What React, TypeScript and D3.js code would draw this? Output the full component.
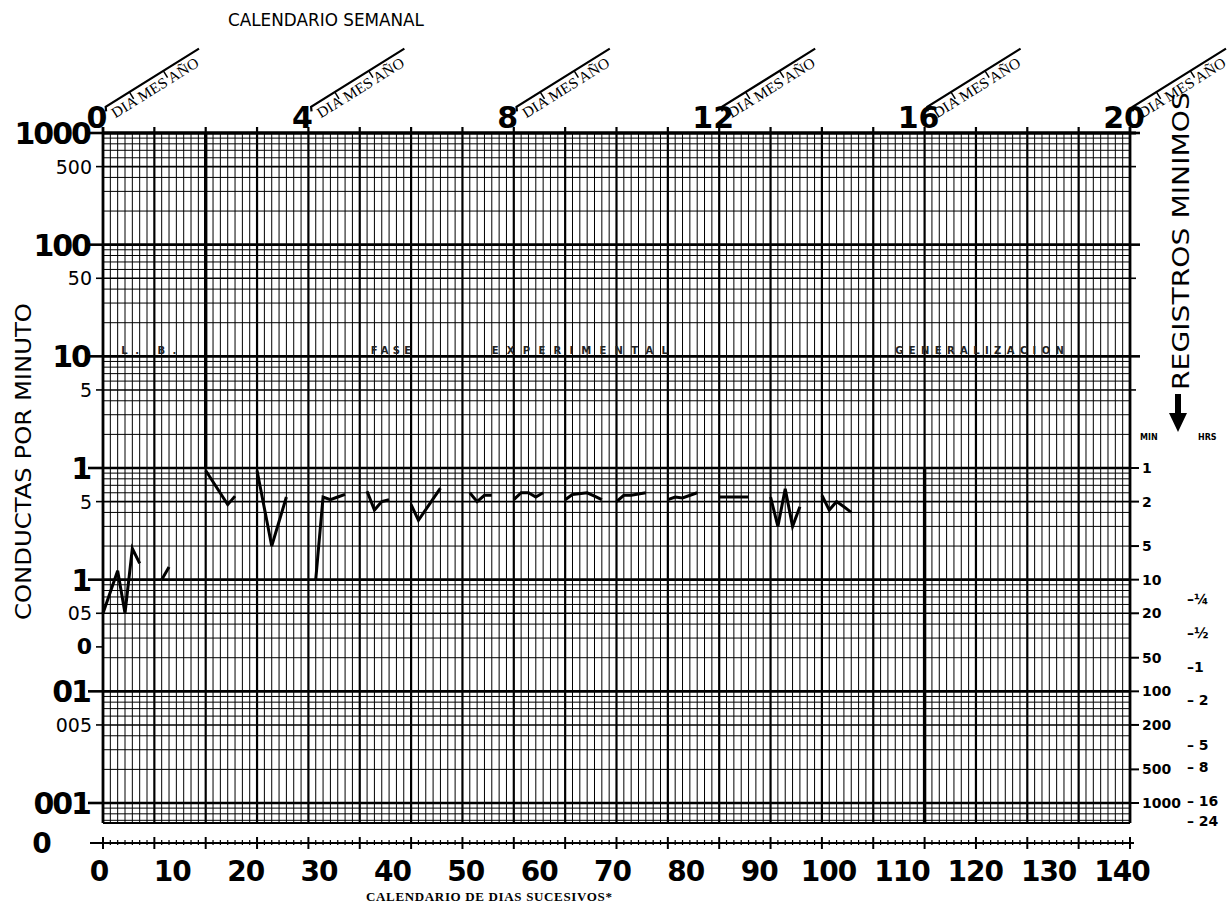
import * as d3 from "d3";

// sessions (day, responses per minute); null breaks a segment
const sessionDays = [
  0, 2, 3, 4, 5, null,
  8, 9, null,
  14, 17, 18, null,
  21, 23, 25, null,
  29, 30, 31, 32, 33, null,
  36, 37, 38, 39, null,
  42, 43, 46, null,
  50, 51, 52, 53, null,
  56, 57, 58, 59, 60, null,
  63, 64, 66, 67, 68, null,
  70, 71, 72, 74, null,
  77, 78, 79, 81, null,
  84, 88, null,
  91, 92, 93, 94, 95, null,
  98, 99, 100, 101, 102,
];
const sessionRates = [
  0.05, 0.12, 0.05, 0.19, 0.14, null,
  0.1, 0.13, null,
  0.95, 0.47, 0.56, null,
  0.95, 0.2, 0.55, null,
  0.1, 0.55, 0.52, 0.55, 0.58, null,
  0.62, 0.42, 0.5, 0.52, null,
  0.47, 0.34, 0.66, null,
  0.6, 0.5, 0.57, 0.57, null,
  0.52, 0.6, 0.6, 0.55, 0.6, null,
  0.52, 0.58, 0.6, 0.56, 0.52, null,
  0.5, 0.57, 0.57, 0.6, null,
  0.52, 0.55, 0.54, 0.6, null,
  0.55, 0.55, null,
  0.55, 0.3, 0.65, 0.3, 0.45, null,
  0.57, 0.42, 0.5, 0.45, 0.4,
];

const weekLabels = [0, 4, 8, 12, 16, 20];
const dayLabels = [0, 10, 20, 30, 40, 50, 60, 70, 80, 90, 100, 110, 120, 130, 140];
const leftMajor = [
  { v: 1000, t: "1000" }, { v: 100, t: "100" }, { v: 10, t: "10" },
  { v: 1, t: "1" }, { v: 0.1, t: "1" }, { v: 0.01, t: "01" }, { v: 0.001, t: "001" },
];
const leftMinor = [
  { v: 500, t: "500" }, { v: 50, t: "50" }, { v: 5, t: "5" }, { v: 0.5, t: "5" },
  { v: 0.05, t: "05" }, { v: 0.025, t: "0" }, { v: 0.005, t: "005" },
];
const minuteLabels = [1, 2, 5, 10, 20, 50, 100, 200, 500, 1000];
const hourLabels = [
  { h: 0.25, t: "–¼" }, { h: 0.5, t: "–½" }, { h: 1, t: "–1" }, { h: 2, t: "– 2" },
  { h: 5, t: "– 5" }, { h: 8, t: "– 8" }, { h: 16, t: "– 16" }, { h: 24, t: "– 24" },
];
const phaseLabels = [
  { day: 2.5, end: 10, t: "L.  B." },
  { day: 36.5, end: 42, t: "FASE" },
  { day: 53, end: 77, t: "EXPERIMENTAL" },
  { day: 108, end: 131, t: "GENERALIZACION" },
];

export default function App() {
  const W = 1230, H = 913;
  const x = d3.scaleLinear().domain([0, 140]).range([103, 1130]);
  const y = d3.scaleLog().domain([0.001, 1000]).range([803, 133]);
  const top = 133, bottom = 823;
  const sans = "DejaVu Sans, sans-serif";
  const serif = "Liberation Serif, serif";

  // horizontal grid lines: 1..9 x each decade, plus the strip below .001
  const hLines: { v: number; w: number }[] = [];
  for (let e = -3; e < 3; e++) {
    for (let m = 1; m < 10; m++) {
      const v = m * Math.pow(10, e);
      hLines.push({ v, w: m === 1 ? 2.6 : m === 5 ? 1.6 : 1 });
    }
  }
  hLines.push({ v: 1000, w: 2.8 });
  [0.0009, 0.0008, 0.0007].forEach(v => hLines.push({ v, w: 1 }));

  const days = d3.range(0, 141);
  const pts = sessionDays.map((d, i) => [d, sessionRates[i]] as [number | null, number | null]);
  const line = d3.line<[number | null, number | null]>()
    .defined(p => p[0] !== null && p[1] !== null)
    .x(p => x(p[0] as number))
    .y(p => y(p[1] as number));

  const axisY = 843;

  return (
    <svg width={W} height={H} style={{ position: "absolute", left: 0, top: 0, background: "#fff" }}>
      <text x={228} y={26} fontFamily={sans} fontSize={18} textLength={196} lengthAdjust="spacingAndGlyphs" fill="#000">CALENDARIO SEMANAL</text>

      {/* week calendar brackets */}
      {weekLabels.map(w => (
        <g key={"w" + w}>
          <text x={x(w * 7) - 6} y={128} fontFamily={sans} fontSize={30} fontWeight="bold" textAnchor="middle">{w}</text>
          <g transform={`translate(${x(w * 7) + 1},${108}) rotate(-32)`}>
            <path d="M0,4 L2,0 L112,0" fill="none" stroke="#000" strokeWidth={2.2} />
            <line x1={30} y1={0} x2={30} y2={8} stroke="#000" strokeWidth={1.5} />
            <line x1={70} y1={0} x2={70} y2={8} stroke="#000" strokeWidth={1.5} />
            <text x={4} y={15} fontFamily={serif} fontSize={15} textLength={100} lengthAdjust="spacingAndGlyphs">DIA MES AÑO</text>
          </g>
        </g>
      ))}

      {/* vertical grid */}
      {days.map(d => (
        <line key={"v" + d} x1={x(d)} x2={x(d)} y1={d % 7 === 0 ? top - 6 : top} y2={bottom}
          stroke="#000" strokeWidth={d === 0 || d === 140 ? 2.8 : d % 7 === 0 ? 2.2 : 1} />
      ))}
      {/* horizontal grid */}
      {hLines.map((l, i) => (
        <line key={"h" + i} x1={x(0)} x2={x(140)} y1={y(l.v)} y2={y(l.v)} stroke="#000" strokeWidth={l.w} />
      ))}
      <line x1={x(0)} x2={x(140) + 6} y1={top} y2={top} stroke="#000" strokeWidth={3} />
      <line x1={x(0)} x2={x(140)} y1={bottom} y2={bottom} stroke="#000" strokeWidth={2} />
      {/* phase lines */}
      <line x1={x(14)} x2={x(14)} y1={top} y2={y(1)} stroke="#000" strokeWidth={3.4} />
      <line x1={x(112)} x2={x(112)} y1={y(1)} y2={bottom} stroke="#000" strokeWidth={3.4} />

      {phaseLabels.map(p => (
        <text key={p.t} x={x(p.day)} y={y(10) - 2} fontFamily={sans} fontSize={10} fontWeight="bold"
          textLength={x(p.end) - x(p.day)} fill="#222">{p.t}</text>
      ))}

      {/* left axis */}
      {leftMajor.map(t => (
        <g key={"lm" + t.v}>
          <line x1={88} x2={x(0)} y1={y(t.v)} y2={y(t.v)} stroke="#000" strokeWidth={2.6} />
          <text x={90} y={y(t.v) + 11} fontFamily={sans} fontSize={30} fontWeight="bold" textAnchor="end" letterSpacing={-2}>{t.t}</text>
        </g>
      ))}
      {leftMinor.map(t => (
        <g key={"ln" + t.v}>
          <line x1={96} x2={x(0)} y1={y(t.v)} y2={y(t.v)} stroke="#000" strokeWidth={1.6} />
          <text x={92} y={y(t.v) + 7} fontFamily={sans} fontSize={t.t === "0" ? 22 : 19}
            fontWeight={t.t === "0" ? "bold" : "normal"} textAnchor="end">{t.t}</text>
        </g>
      ))}
      <text transform={`translate(31,${620}) rotate(-90)`} fontFamily={sans} fontSize={21} textLength={317} lengthAdjust="spacingAndGlyphs">CONDUCTAS POR MINUTO</text>

      {/* right axis: minutes and hours */}
      {minuteLabels.map(m => (
        <g key={"m" + m}>
          <line x1={x(140)} x2={x(140) + 9} y1={y(1 / m)} y2={y(1 / m)} stroke="#000" strokeWidth={2} />
          <text x={x(140) + 12} y={y(1 / m) + 5} fontFamily={sans} fontSize={14} fontWeight="bold">{m}</text>
        </g>
      ))}
      {[1000, 100, 10].map(v => (
        <line key={"rt" + v} x1={x(140)} x2={x(140) + 10} y1={y(v)} y2={y(v)} stroke="#000" strokeWidth={2.6} />
      ))}
      {[500, 50, 5].map(v => (
        <line key={"rt" + v} x1={x(140)} x2={x(140) + 6} y1={y(v)} y2={y(v)} stroke="#000" strokeWidth={1.6} />
      ))}
      {hourLabels.map(h => (
        <text key={"h" + h.h} x={1187} y={y(1 / (h.h * 60)) + 5} fontFamily={sans} fontSize={14} fontWeight="bold">{h.t}</text>
      ))}
      <text transform={`translate(1189,${390}) rotate(-90)`} fontFamily={sans} fontSize={23} textLength={298} lengthAdjust="spacingAndGlyphs">REGISTROS MINIMOS</text>
      <path d="M1175,394 L1181,394 L1181,413 L1187,413 L1178,432 L1169,413 L1175,413 Z" fill="#000" />
      <text x={1140} y={440} fontFamily={sans} fontSize={8} fontWeight="bold">MIN</text>
      <text x={1198} y={440} fontFamily={sans} fontSize={8} fontWeight="bold">HRS</text>

      {/* data */}
      <path d={line(pts) ?? ""} fill="none" stroke="#000" strokeWidth={3} strokeLinejoin="miter" />

      {/* bottom day axis */}
      <line x1={90} x2={x(140) + 4} y1={axisY} y2={axisY} stroke="#000" strokeWidth={2} />
      {days.map(d => (
        <line key={"t" + d} x1={x(d)} x2={x(d)} y1={axisY - (d % 7 === 0 ? 6 : 3)} y2={axisY + (d % 7 === 0 ? 6 : 2)}
          stroke="#000" strokeWidth={d % 7 === 0 ? 2 : 1.2} />
      ))}
      <text x={42} y={axisY + 10} fontFamily={sans} fontSize={28} fontWeight="bold" textAnchor="middle">0</text>
      {dayLabels.map(d => (
        <text key={"dl" + d} x={x(d) - (d >= 100 ? 8 : 4)} y={axisY + 38} fontFamily={sans} fontSize={28}
          fontWeight="bold" textAnchor="middle" letterSpacing={-1}>{d}</text>
      ))}
      <text x={366} y={901} fontFamily={serif} fontSize={13} fontWeight="bold" textLength={246}>CALENDARIO DE DIAS SUCESIVOS*</text>
    </svg>
  );
}
